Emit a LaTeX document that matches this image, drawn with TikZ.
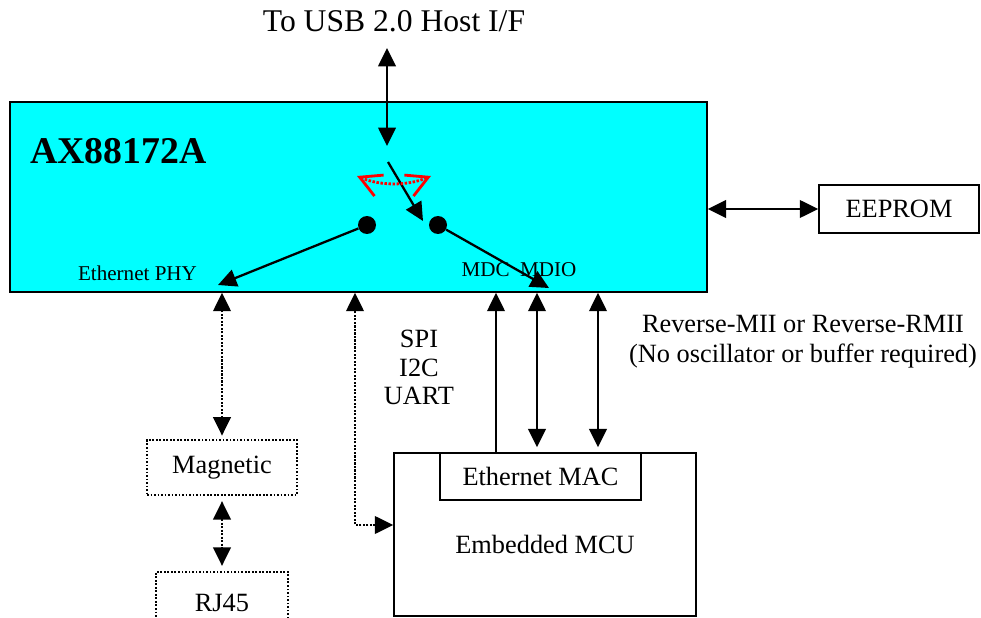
\documentclass[tikz,border=0pt]{standalone}
\usepackage{fontspec}
\setmainfont{Liberation Serif}
\usepackage{xcolor}
\usepackage{tikz}
\usetikzlibrary{arrows.meta}

\definecolor{chipcyan}{RGB}{0,255,255}
\definecolor{swingred}{RGB}{255,0,0}

\tikzset{
  box/.style={draw,line width=0.9pt,inner sep=0pt},
  dotbox/.style={draw,line width=1pt,dash pattern=on 1pt off 1pt,inner sep=0pt},
  link/.style={line width=1.3pt,-{Triangle[length=10.5pt,width=10pt]}},
  twoway/.style={line width=1.3pt,{Triangle[length=10.5pt,width=10pt]}-{Triangle[length=10.5pt,width=10pt]}},
  dotway/.style={twoway,dash pattern=on 1.2pt off 0.8pt},
  spaced/.style={shorten <=3pt,shorten >=3pt},
  swing/.style={swingred,line width=1.6pt,dash pattern=on 1.4pt off 0.9pt,{Straight Barb[length=12pt,width=13pt]}-{Straight Barb[length=12pt,width=13pt]}},
  knob/.style={circle,fill,inner sep=0pt,minimum size=0.36cm}
}

\begin{document}
\begin{tikzpicture}[x=0.02cm,y=-0.02cm,every node/.style={font=\fontsize{15}{17}\selectfont}]
\useasboundingbox (0,0) rectangle (981,618);

\node (host) at (394,32)[anchor=base,inner sep=0pt,font=\fontsize{18}{20}\selectfont]{To USB 2.0 Host I/F};

\node (chip) at (358.5,197)[box,fill=chipcyan,minimum width=13.94cm,minimum height=3.8cm]{};
\node (name) at (30,164)[anchor=base west,inner sep=0pt,font=\fontsize{21.5}{24}\selectfont\bfseries]{AX88172A};
\node (phy) at (137.5,281)[anchor=base,inner sep=0pt,font=\fontsize{12}{14}\selectfont]{Ethernet PHY};
\node (mdio) at (519,277)[anchor=base,inner sep=0pt,font=\fontsize{12}{14}\selectfont]{MDC\ \ MDIO};

\coordinate (usbtop) at (387,48);
\coordinate (usbend) at (387,146);
\draw[twoway] (usbtop) -- (usbend);

\coordinate (lever) at (388,162);
\coordinate (leverend) at (423,221);
\draw[link] (lever) -- (leverend);

\coordinate (swl) at (357,176);
\coordinate (swr) at (431,176);
\draw[swing] (swl) .. controls (380,186) and (408,186) .. (swr);

\node (dotl) at (367,225)[knob]{};
\node (dotr) at (438,225)[knob]{};
\coordinate (phyend) at (218,285);
\coordinate (mdioend) at (549,288);
\draw[link] (dotl) -- (phyend);
\draw[link] (dotr) -- (mdioend);

\node (eeprom) at (899,209)[box,minimum width=3.2cm,minimum height=0.96cm]{EEPROM};
\draw[twoway] (eeprom.west) -- (eeprom.west -| chip.east);

\node (magnetic) at (222,467.5)[dotbox,minimum width=3cm,minimum height=1.1cm]{Magnetic};
\node (rj45) at (222,603)[dotbox,minimum width=2.64cm,minimum height=1.24cm]{RJ45};
\draw[dotway,shorten <=2pt] (magnetic.north) -- (magnetic.north |- chip.south);
\draw[dotway,spaced] (magnetic.south) -- (rj45.north);

\node (mcu) at (545,534.5)[box,minimum width=6.04cm,minimum height=3.26cm]{};
\node (mac) at (540.5,476.5)[box,minimum width=4.02cm,minimum height=0.94cm]{Ethernet MAC};
\node (mcuname) at (545,544){Embedded MCU};

\coordinate (bend) at (355,525);
\draw[dotway] (bend -| mcu.west) -- (bend) -- (bend |- chip.south);
\node (spi) at (419,367.5)[align=center,font=\fontsize{15}{16.2}\selectfont]{SPI\\I2C\\UART};

\coordinate (mdcx) at (496,0);
\coordinate (mdiox) at (537,0);
\coordinate (miix) at (598,0);
\draw[link] (mdcx |- mac.north) -- (mdcx |- chip.south);
\draw[twoway,shorten <=2.8pt] (mdiox |- mac.north) -- (mdiox |- chip.south);
\draw[twoway,shorten <=2.8pt] (miix |- mac.north) -- (miix |- chip.south);

\node (rev) at (803,341.5)[align=center]{Reverse-MII or Reverse-RMII\\(No oscillator or buffer required)};

\end{tikzpicture}
\end{document}
